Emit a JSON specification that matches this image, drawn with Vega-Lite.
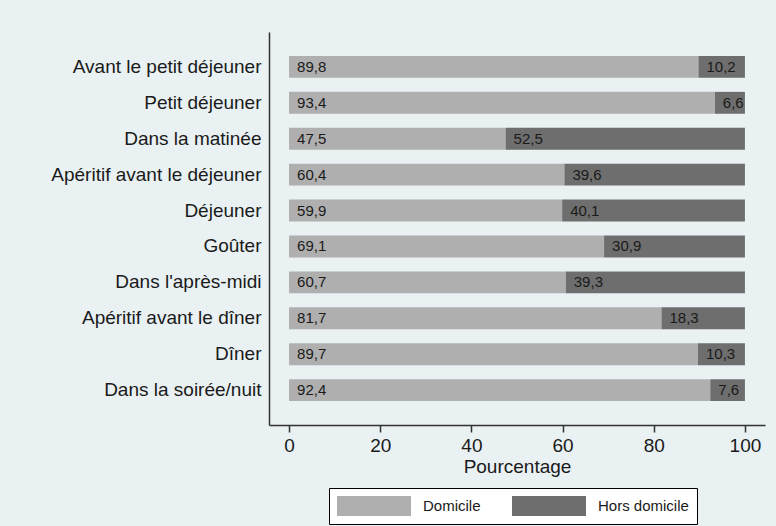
{
  "$schema": "https://vega.github.io/schema/vega-lite/v6.json",
  "width": 496,
  "height": 393,
  "autosize": {"type": "none"},
  "padding": {"left": 269, "top": 32, "right": 11, "bottom": 101},
  "background": "#e9f1f3",
  "config": {
    "view": {"stroke": null},
    "font": "Liberation Sans",
    "locale": {"number": {"decimal": ",", "thousands": " ", "grouping": [3], "currency": ["", " €"]}}
  },
  "data": {
    "values": [
      {"moment": "Avant le petit déjeuner", "lieu": "Domicile", "pct": 89.8},
      {"moment": "Avant le petit déjeuner", "lieu": "Hors domicile", "pct": 10.2},
      {"moment": "Petit déjeuner", "lieu": "Domicile", "pct": 93.4},
      {"moment": "Petit déjeuner", "lieu": "Hors domicile", "pct": 6.6},
      {"moment": "Dans la matinée", "lieu": "Domicile", "pct": 47.5},
      {"moment": "Dans la matinée", "lieu": "Hors domicile", "pct": 52.5},
      {"moment": "Apéritif avant le déjeuner", "lieu": "Domicile", "pct": 60.4},
      {"moment": "Apéritif avant le déjeuner", "lieu": "Hors domicile", "pct": 39.6},
      {"moment": "Déjeuner", "lieu": "Domicile", "pct": 59.9},
      {"moment": "Déjeuner", "lieu": "Hors domicile", "pct": 40.1},
      {"moment": "Goûter", "lieu": "Domicile", "pct": 69.1},
      {"moment": "Goûter", "lieu": "Hors domicile", "pct": 30.9},
      {"moment": "Dans l'après-midi", "lieu": "Domicile", "pct": 60.7},
      {"moment": "Dans l'après-midi", "lieu": "Hors domicile", "pct": 39.3},
      {"moment": "Apéritif avant le dîner", "lieu": "Domicile", "pct": 81.7},
      {"moment": "Apéritif avant le dîner", "lieu": "Hors domicile", "pct": 18.3},
      {"moment": "Dîner", "lieu": "Domicile", "pct": 89.7},
      {"moment": "Dîner", "lieu": "Hors domicile", "pct": 10.3},
      {"moment": "Dans la soirée/nuit", "lieu": "Domicile", "pct": 92.4},
      {"moment": "Dans la soirée/nuit", "lieu": "Hors domicile", "pct": 7.6}
    ]
  },
  "transform": [
    {"stack": "pct", "groupby": ["moment"], "sort": [{"field": "lieu", "order": "ascending"}], "as": ["x0", "x1"]}
  ],
  "encoding": {
    "y": {
      "field": "moment",
      "type": "nominal",
      "sort": null,
      "scale": {"paddingInner": 0.39, "paddingOuter": 0.667},
      "axis": {
        "title": null,
        "ticks": false,
        "domain": true,
        "domainColor": "#333333",
        "domainWidth": 1.5,
        "labelPadding": 8,
        "labelFontSize": 19,
        "labelColor": "#1a1a1a",
        "labelLimit": 300
      }
    }
  },
  "layer": [
    {
      "mark": {"type": "bar"},
      "encoding": {
        "x": {
          "field": "x0",
          "type": "quantitative",
          "title": "Pourcentage",
          "scale": {"domain": [-4.4, 104.4], "nice": false, "zero": false},
          "axis": {
            "values": [0, 20, 40, 60, 80, 100],
            "grid": false,
            "domainColor": "#333333",
            "domainWidth": 1.5,
            "tickColor": "#333333",
            "tickWidth": 1.5,
            "tickSize": 7,
            "labelFontSize": 19,
            "labelColor": "#1a1a1a",
            "labelPadding": 4,
            "titleFontSize": 19,
            "titleFontWeight": "normal",
            "titleColor": "#1a1a1a",
            "titlePadding": 2
          }
        },
        "x2": {"field": "x1"},
        "color": {
          "field": "lieu",
          "type": "nominal",
          "scale": {"domain": ["Domicile", "Hors domicile"], "range": ["#afafaf", "#6e6e6e"]},
          "legend": {
            "orient": "none",
            "legendX": 60,
            "legendY": 456,
            "direction": "horizontal",
            "title": null,
            "symbolType": "M-1,-1H6.4V1H-1Z",
            "symbolSize": 400,
            "symbolStrokeWidth": 0,
            "symbolOpacity": 1,
            "labelFontSize": 15,
            "labelColor": "#1a1a1a",
            "labelOffset": 66,
            "columnPadding": 31,
            "padding": 8,
            "strokeColor": "#000000",
            "fillColor": "#ffffff"
          }
        }
      }
    },
    {
      "mark": {"type": "text", "align": "left", "baseline": "middle", "dx": 8, "fontSize": 15, "color": "#1a1a1a"},
      "encoding": {
        "x": {"field": "x0", "type": "quantitative", "title": "Pourcentage"},
        "text": {"field": "pct", "type": "quantitative", "format": ".1f"}
      }
    }
  ]
}
